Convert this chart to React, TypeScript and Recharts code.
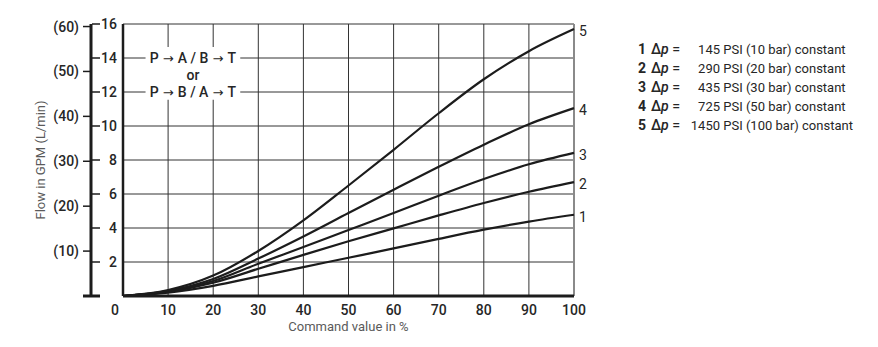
import React from "react";
import {
  CartesianGrid,
  Label,
  LabelList,
  Line,
  LineChart,
  ReferenceArea,
  ReferenceLine,
  XAxis,
  YAxis,
} from "recharts";

// values (flow in GPM vs. command value in %)
const COMMAND = [0, 10, 20, 30, 40, 50, 60, 70, 80, 90, 100];
const FLOW_1 = [0, 0.2, 0.6, 1.15, 1.7, 2.25, 2.8, 3.36, 3.9, 4.38, 4.78];
const FLOW_2 = [0, 0.24, 0.78, 1.6, 2.42, 3.22, 3.98, 4.74, 5.47, 6.13, 6.7];
const FLOW_3 = [0, 0.27, 0.88, 1.9, 2.88, 3.88, 4.88, 5.9, 6.88, 7.75, 8.42];
const FLOW_4 = [0, 0.3, 1.0, 2.2, 3.5, 4.88, 6.25, 7.6, 8.9, 10.1, 11.05];
const FLOW_5 = [0, 0.35, 1.2, 2.65, 4.45, 6.5, 8.6, 10.75, 12.75, 14.4, 15.7];

const CURVES = ["1", "2", "3", "4", "5"];
const PSI = [145, 290, 435, 725, 1450];
const BAR = [10, 20, 30, 50, 100];

const X_TICKS = [0, 10, 20, 30, 40, 50, 60, 70, 80, 90, 100];
const GPM_TICKS = [0, 2, 4, 6, 8, 10, 12, 14, 16];
const LPM_TICKS = [10, 20, 30, 40, 50, 60];
const GPM_TO_LPM = 3.7854;

const FONT = "Roboto, 'Liberation Sans', Arial, sans-serif";
const ARROW_FONT = "'DejaVu Sans', sans-serif";
const INK = "#1c1c1c";
const TEXT = "#262626";
const MUTED = "#5a5a5a";

const data = COMMAND.map((x, i) => ({
  x,
  c1: FLOW_1[i],
  c2: FLOW_2[i],
  c3: FLOW_3[i],
  c4: FLOW_4[i],
  c5: FLOW_5[i],
}));

function GpmTick(props: any) {
  const { x, y, payload } = props;
  if (payload.value === 0) {
    return <line x1={x - 34} x2={x - 17} y1={y} y2={y} stroke={INK} strokeWidth={3} />;
  }
  return (
    <g>
      <line x1={x - 25} x2={x - 17} y1={y} y2={y} stroke={INK} strokeWidth={1.5} />
      <text
        x={x}
        y={y}
        textAnchor="end"
        dominantBaseline="central"
        fontFamily={FONT}
        fontSize={14}
        fontWeight={500}
        fill={TEXT}
      >
        {payload.value}
      </text>
    </g>
  );
}

function XTick(props: any) {
  const { x, y, payload } = props;
  return (
    <text
      x={payload.value === 0 ? x - 8 : x}
      y={y + 6}
      textAnchor="middle"
      dominantBaseline="central"
      fontFamily={FONT}
      fontSize={14}
      fontWeight={500}
      fill={TEXT}
    >
      {payload.value}
    </text>
  );
}

function YTitle(props: any) {
  const { viewBox } = props;
  const cx = viewBox.x + 40;
  const cy = viewBox.y + viewBox.height / 2;
  return (
    <text
      x={cx}
      y={cy}
      transform={`rotate(-90 ${cx} ${cy})`}
      textAnchor="middle"
      dominantBaseline="central"
      fontFamily={FONT}
      fontSize={13}
      fill={MUTED}
    >
      Flow in GPM (L/min)
    </text>
  );
}

const PATHS = [
  ["P", "A / B", "T"],
  null,
  ["P", "B / A", "T"],
];

function FlowPath(props: any) {
  const { viewBox } = props;
  const cx = viewBox.x + viewBox.width / 2;
  const common = {
    x: cx,
    textAnchor: "middle" as const,
    dominantBaseline: "central" as const,
    fontFamily: FONT,
    fontSize: 14,
    fontWeight: 500,
    fill: TEXT,
  };
  return (
    <g>
      {PATHS.map((p, i) => (
        <text key={i} {...common} y={viewBox.y + 11 + i * 17}>
          {p == null ? (
            "or"
          ) : (
            <>
              {p[0]}
              <tspan fontFamily={ARROW_FONT} fontWeight={400} fontSize={13}>
                {" \u2192 "}
              </tspan>
              {p[1]}
              <tspan fontFamily={ARROW_FONT} fontWeight={400} fontSize={13}>
                {" \u2192 "}
              </tspan>
              {p[2]}
            </>
          )}
        </text>
      ))}
    </g>
  );
}

const endLabel = (name: string) => (props: any) => {
  const { x, y, index } = props;
  if (index !== COMMAND.length - 1) return null;
  return (
    <text
      x={x + 5}
      y={y + 2}
      dominantBaseline="central"
      fontFamily={FONT}
      fontSize={14}
      fill={TEXT}
    >
      {name}
    </text>
  );
};

export default function App() {
  return (
    <div style={{ position: "absolute", left: 0, top: 0, width: 878, height: 347, background: "#fff" }}>
      <LineChart
        width={878}
        height={347}
        data={data}
        margin={{ top: 24, right: 304, bottom: 11, left: 0 }}
      >
        <CartesianGrid yAxisId="gpm" stroke="#333" strokeWidth={1} />
        <XAxis
          dataKey="x"
          type="number"
          domain={[0, 100]}
          ticks={X_TICKS}
          interval={0}
          height={40}
          axisLine={{ stroke: INK, strokeWidth: 3 }}
          tickLine={false}
          tick={<XTick />}
        >
          <Label
            value="Command value in %"
            position="insideBottom"
            offset={5}
            style={{ fontFamily: FONT, fontSize: 13, fill: MUTED }}
          />
        </XAxis>
        <YAxis
          yAxisId="gpm"
          type="number"
          domain={[0, 16]}
          ticks={GPM_TICKS}
          interval={0}
          width={32}
          axisLine={{ stroke: INK, strokeWidth: 2.5 }}
          tickLine={false}
          tickSize={0}
          tickMargin={6}
          tick={<GpmTick />}
        />
        <YAxis
          yAxisId="lpm"
          type="number"
          domain={[0, 16 * GPM_TO_LPM]}
          allowDataOverflow
          ticks={LPM_TICKS}
          interval={0}
          width={91}
          axisLine={{ stroke: INK, strokeWidth: 3 }}
          tickLine={{ stroke: INK, strokeWidth: 1.5 }}
          tickSize={8}
          tickMargin={4}
          tickFormatter={(v) => `(${v})`}
          tick={{ fontFamily: FONT, fontSize: 14, fontWeight: 500, fill: TEXT }}
          label={<YTitle />}
        />
        <ReferenceLine yAxisId="gpm" x={100} stroke="#8a8a8a" strokeWidth={2} />
        <ReferenceArea
          yAxisId="gpm"
          x1={5}
          x2={26}
          y1={11.55}
          y2={14.65}
          fill="#fff"
          fillOpacity={1}
          stroke="none"
        >
          <Label content={<FlowPath />} />
        </ReferenceArea>
        {CURVES.map((c) => (
          <Line
            key={c}
            yAxisId="gpm"
            type="monotone"
            dataKey={`c${c}`}
            stroke={INK}
            strokeWidth={2.2}
            dot={false}
            isAnimationActive={false}
          >
            <LabelList dataKey={`c${c}`} content={endLabel(c)} />
          </Line>
        ))}
      </LineChart>

      <div
        style={{
          position: "absolute",
          left: 638,
          top: 40,
          fontFamily: FONT,
          fontSize: 13,
          color: TEXT,
        }}
      >
        {CURVES.map((c, i) => (
          <div key={c} style={{ whiteSpace: "nowrap", height: 19, lineHeight: "19px" }}>
            <span style={{ display: "inline-block", width: 13, fontWeight: 700, fontSize: 14 }}>{c}</span>
            <span style={{ display: "inline-block", width: 34, fontWeight: 500, fontSize: 14 }}>
              {"\u0394"}
              <i>p</i> =
            </span>
            <span style={{ display: "inline-block", width: 35, textAlign: "right" }}>{PSI[i]}</span>
            <span> PSI ({BAR[i]} bar) constant</span>
          </div>
        ))}
      </div>
    </div>
  );
}
